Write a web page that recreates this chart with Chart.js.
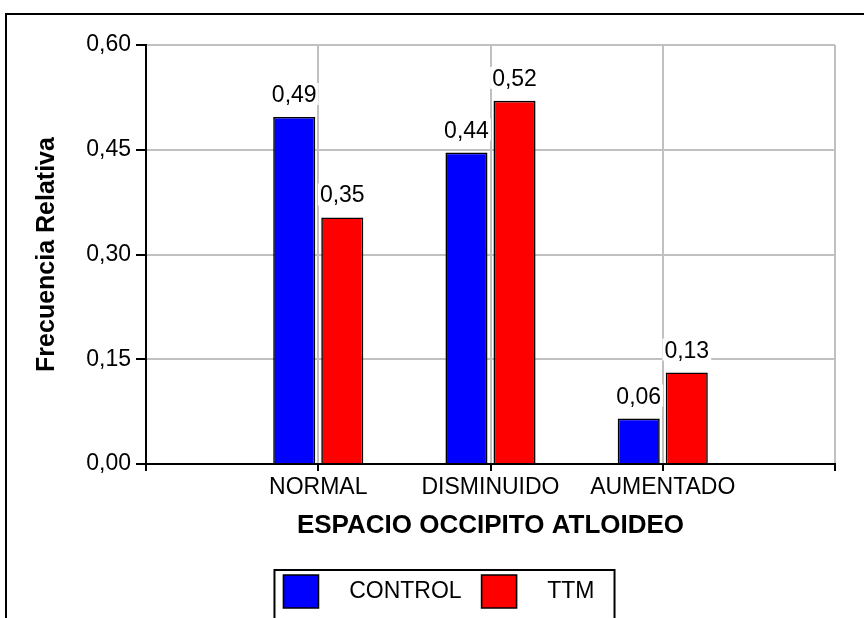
<!DOCTYPE html>
<html>
<head>
<meta charset="utf-8">
<script src="https://cdn.jsdelivr.net/npm/chart.js@4/dist/chart.umd.min.js"></script>
<style>
  html, body { margin: 0; padding: 0; background: #fff; }
  #wrap { width: 864px; height: 618px; position: relative; }
</style>
</head>
<body>
<div id="wrap"><canvas id="c"></canvas></div>
<script>
// ---- data ----
const categories = ['NORMAL', 'DISMINUIDO', 'AUMENTADO'];
const seriesNames = ['CONTROL', 'TTM'];
const control = [0.497, 0.446, 0.065];
const ttm = [0.353, 0.520, 0.131];
const yTicks = [0, 0.15, 0.30, 0.45, 0.60];
const xTitle = 'ESPACIO OCCIPITO ATLOIDEO';
const yTitle = 'Frecuencia Relativa';

const FAMILY = '"Liberation Sans", Arial, Helvetica, sans-serif';
const fmt = v => v.toFixed(2).replace('.', ',');
const fmtTrunc = v => (Math.floor(v * 100 + 1e-6) / 100).toFixed(2).replace('.', ',');

// pad categories with empty slots at both ends (axis spans 0..4)
const labels = [''].concat(categories, ['']);
const pad = arr => [null].concat(arr, [null]);

const valueLabels = {
  id: 'valueLabels',
  afterDatasetsDraw(chart) {
    const ctx = chart.ctx;
    ctx.save();
    ctx.font = '23px ' + FAMILY;
    ctx.textAlign = 'center';
    ctx.textBaseline = 'alphabetic';
    chart.data.datasets.forEach((ds, di) => {
      const meta = chart.getDatasetMeta(di);
      meta.data.forEach((bar, i) => {
        const v = ds.data[i];
        if (v === null || v === undefined) return;
        const t = fmtTrunc(v);
        const w = ctx.measureText(t).width;
        const y = bar.y - 15;
        ctx.fillStyle = '#fff';
        ctx.fillRect(bar.x - w / 2 - 2, y - 19, w + 4, 22);
        ctx.fillStyle = '#000';
        ctx.fillText(t, bar.x, y);
      });
    });
    ctx.restore();
  }
};

const frame = {
  id: 'frame',
  afterDraw(chart) {
    const ctx = chart.ctx;
    ctx.save();
    ctx.strokeStyle = '#000';
    ctx.lineWidth = 2;
    ctx.strokeRect(6, 14, 880, 640);
    const lg = chart.legend;
    if (lg && lg.legendHitBoxes && lg.legendHitBoxes.length) {
      const hb = lg.legendHitBoxes;
      const first = hb[0], last = hb[hb.length - 1];
      const l = first.left - 9;
      const r = last.left + last.width + 20;
      const t = first.top - 5;
      ctx.strokeRect(l, t, r - l, 700);
    }
    ctx.restore();
  }
};

new Chart(document.getElementById('c'), {
  type: 'bar',
  data: {
    labels: labels,
    datasets: [
      { label: seriesNames[0], data: pad(control), backgroundColor: '#0000ff', borderColor: '#000', borderWidth: 1.6 },
      { label: seriesNames[1], data: pad(ttm), backgroundColor: '#ff0000', borderColor: '#000', borderWidth: 1.6 }
    ]
  },
  options: {
    responsive: true,
    maintainAspectRatio: false,
    animation: false,
    events: [],
    categoryPercentage: 0.558,
    barPercentage: 0.875,
    layout: { padding: { left: 43, top: 45, right: 29, bottom: 0 } },
    plugins: {
      tooltip: { enabled: false },
      legend: {
        position: 'bottom',
        labels: {
          boxWidth: 35,
          boxHeight: 33,
          padding: 20,
          color: '#000',
          font: { size: 23, family: FAMILY },
          generateLabels(chart) {
            return chart.data.datasets.map((ds, i) => ({
              text: '   ' + ds.label,
              fillStyle: ds.backgroundColor,
              strokeStyle: '#000',
              lineWidth: 1.6,
              fontColor: '#000',
              hidden: false,
              datasetIndex: i
            }));
          }
        }
      }
    },
    scales: {
      x: {
        offset: false,
        grid: { offset: false, color: '#c0c0c0', lineWidth: 2, tickColor: '#000', tickLength: 7, tickWidth: 2 },
        border: { color: '#000', width: 2 },
        ticks: { autoSkip: false, maxRotation: 0, minRotation: 0, color: '#000', padding: 3,
                 font: { size: 23, family: FAMILY } },
        title: { display: true, text: xTitle, color: '#000', padding: { top: 0, bottom: 13.4 },
                 font: { size: 26, weight: 'bold', family: FAMILY } },
        afterFit(s) { s.height = 91; }
      },
      y: {
        min: 0,
        max: 0.6,
        afterBuildTicks(s) { s.ticks = yTicks.map(v => ({ value: v })); },
        grid: { color: '#c0c0c0', lineWidth: 2, tickColor: '#000', tickLength: 10, tickWidth: 2 },
        border: { color: '#000', width: 2 },
        ticks: { color: '#000', padding: 5, font: { size: 23, family: FAMILY },
                 callback: v => fmt(v) },
        title: { display: true, text: yTitle, color: '#000', padding: { top: -10.5, bottom: 0 },
                 font: { size: 25, weight: 'bold', family: FAMILY } },
        afterFit(s) { s.width = 103; }
      }
    }
  },
  plugins: [valueLabels, frame]
});
</script>
</body>
</html>
